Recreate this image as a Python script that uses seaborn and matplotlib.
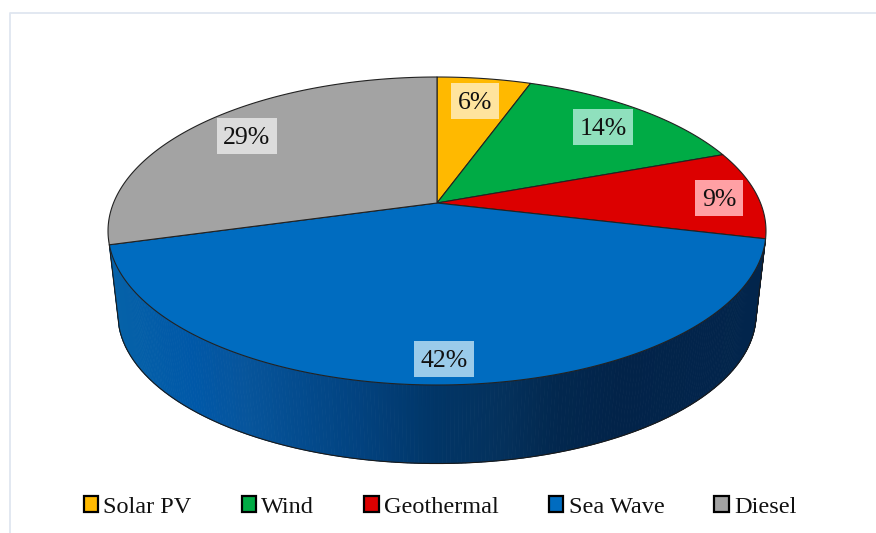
import numpy as np
import matplotlib
matplotlib.use("Agg")
import matplotlib.pyplot as plt
from matplotlib.colors import LinearSegmentedColormap
from matplotlib.patches import Patch
import seaborn as sns

categories = ["Solar PV", "Wind", "Geothermal", "Sea Wave", "Diesel"]
shares = [5.5, 13.9, 9.3, 42.0, 29.3]
colors = ["#ffb900", "#00ab45", "#dc0000", "#006cc0", "#a3a3a3"]
label_centres = [(475, 101), (603, 127), (719, 198), (444, 359), (246.5, 136)]
label_boxes = ["#ffe49e", "#8fe0bd", "#ffa0a4", "#9acbea", "#dcdcdc"]

sns.set_theme(style="white")
plt.rcParams["font.family"] = ["Liberation Serif", "DejaVu Serif"]
palette = sns.color_palette(colors)

fig = plt.figure(figsize=(8.76, 5.33), dpi=100, facecolor="white")
ax = fig.add_axes([0, 0, 1, 1])
ax.set_xlim(0, 876)
ax.set_ylim(533, 0)
ax.axis("off")

# page frame
ax.plot([10, 10, 876], [533, 13, 13], color="#dfe6f0", lw=1.3, solid_capstyle="butt")

# perspective disc
CX, CY, A, B, K = 437.0, 203.0, 323.5, 148.9, 0.1818
LOWER_CY, LOWER_SCALE = 287.0, 0.97


def rim(theta, cy=CY, scale=1.0):
    x, y = np.sin(theta), -np.cos(theta)
    w = 1 - K * y
    return CX + scale * A * x / w, cy + scale * B * y / w


edges = 2 * np.pi * np.concatenate([[0], np.cumsum(shares)]) / sum(shares)
front_start, front_end = edges[3], edges[4]

# side wall of the front wedge, shaded strip by strip
shade = LinearSegmentedColormap.from_list(
    "side",
    [(0.00, "#0662a8"), (0.12, "#0058a8"), (0.20, "#07559c"), (0.30, "#034a8c"),
     (0.38, "#02427f"), (0.50, "#013566"), (0.60, "#04315c"), (0.68, "#02284f"),
     (0.78, "#022349"), (1.00, "#02254c")],
)
ts = np.linspace(front_end, front_start, 260)
for t0, t1 in zip(ts[:-1], ts[1:]):
    x0, y0 = rim(t0)
    x1, y1 = rim(t1)
    x2, y2 = rim(t1, LOWER_CY, LOWER_SCALE)
    x3, y3 = rim(t0, LOWER_CY, LOWER_SCALE)
    c = shade(np.clip((0.5 * (x0 + x1) - 110) / 656, 0, 1))
    ax.fill([x0, x1, x2, x3], [y0, y1, y2, y3], color=c, lw=0.6, zorder=2)

lx, ly = rim(ts, LOWER_CY, LOWER_SCALE)
tx0, ty0 = rim(ts[0])
tx1, ty1 = rim(ts[-1])
ax.plot(np.r_[tx0, lx, tx1], np.r_[ty0, ly, ty1], color="#1a1a1a", lw=0.8, zorder=3)

# top face wedges
for i, col in enumerate(palette):
    t = np.linspace(edges[i], edges[i + 1], 200)
    x, y = rim(t)
    ax.fill(np.r_[CX, x], np.r_[CY, y], facecolor=col, edgecolor="#222222",
            lw=0.8, joinstyle="round", zorder=4)

# labels
for v, (lx_, ly_), bg in zip(shares, label_centres, label_boxes):
    ax.text(lx_, ly_ + 2, f"{v:.0f}%", ha="center", va="center", fontsize=18.5, color="#111111",
            zorder=6)
    inset = 0 if v >= 10 else 6
    ax.add_patch(plt.Rectangle((lx_ - 30 + inset, ly_ - 18), 60 - 2 * inset, 36,
                               facecolor=bg, edgecolor="none", zorder=5))

handles = [Patch(facecolor=c, edgecolor="black", lw=1.6, label=n) for c, n in zip(palette, categories)]
ax.legend(handles=handles, ncol=5, loc="center", bbox_to_anchor=(440 / 876, 1 - 507 / 533),
          frameon=False, fontsize=17.5, labelcolor="#111111", handlelength=0.6, handleheight=0.6,
          handletextpad=0.22, columnspacing=2.05, borderpad=0, borderaxespad=0)

fig.savefig("out.png", dpi=100, facecolor="white")
